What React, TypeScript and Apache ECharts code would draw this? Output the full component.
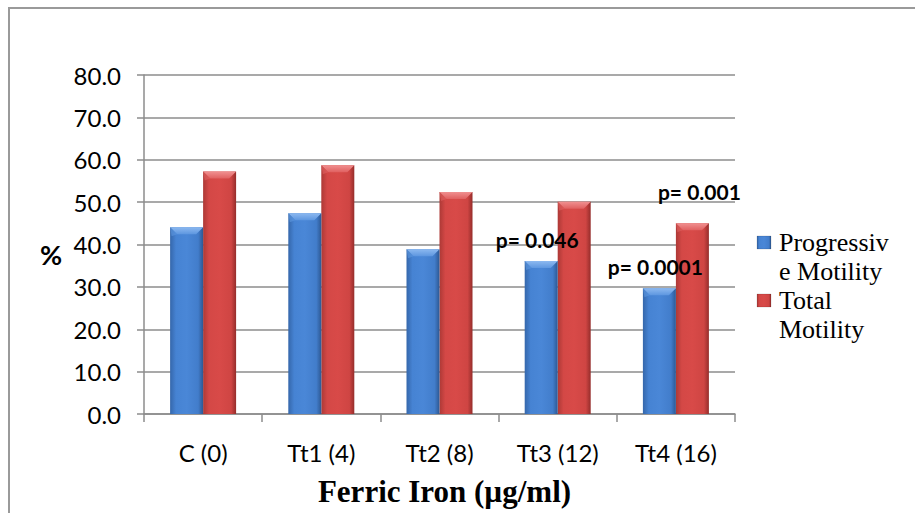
import React, { useEffect, useRef } from "react";
import * as echarts from "echarts";

// Motility (%) by ferric iron dose
const categories = ["C (0)", "Tt1 (4)", "Tt2 (8)", "Tt3 (12)", "Tt4 (16)"];
const progressiveMotility = [44.1, 47.4, 38.9, 36.1, 29.7];
const totalMotility = [57.2, 58.7, 52.4, 50.1, 45.0];
const progressiveNotes = ["", "", "", "p= 0.046", "p= 0.0001"];
const totalNotes = ["", "", "", "", "p= 0.001"];
const legendLines = {
  progressive: ["Progressiv", "e Motility"],
  total: ["Total", "Motility"],
};

const BAR_W = 33;
const BEVEL = 7;
const GRID_COLOR = "#8c8c8c";

const blueBody = new echarts.graphic.LinearGradient(0, 0, 1, 0, [
  { offset: 0, color: "#3567ab" },
  { offset: 0.18, color: "#4683d3" },
  { offset: 0.5, color: "#4a87d7" },
  { offset: 0.85, color: "#427dcb" },
  { offset: 1, color: "#2d5893" },
]);
const redBody = new echarts.graphic.LinearGradient(0, 0, 1, 0, [
  { offset: 0, color: "#ad3936" },
  { offset: 0.18, color: "#d44846" },
  { offset: 0.5, color: "#d84a48" },
  { offset: 0.85, color: "#cf4543" },
  { offset: 1, color: "#952d2b" },
]);

// Chamfered top edge drawn over each bar
function bevelSeries(values: number[], side: number, light: string, mid: string) {
  return {
    type: "custom",
    z: 4,
    silent: true,
    data: values.map((v, i) => [i, v]),
    encode: { x: 0, y: 1 },
    renderItem: (_params: any, api: any) => {
      const top = api.coord([api.value(0), api.value(1)]);
      const base = api.coord([api.value(0), 0]);
      const x0 = side < 0 ? top[0] - BAR_W : top[0];
      const x1 = x0 + BAR_W;
      const y0 = top[1];
      const b = Math.min(BEVEL, (base[1] - y0) / 2);
      return {
        type: "group",
        children: [
          {
            type: "polygon",
            shape: { points: [[x0, y0], [x1, y0], [x1 - b, y0 + b], [x0 + b, y0 + b]] },
            style: {
              fill: new echarts.graphic.LinearGradient(0, 0, 0, 1, [
                { offset: 0, color: light },
                { offset: 1, color: mid },
              ]),
            },
          },
          {
            type: "polygon",
            shape: { points: [[x0, y0], [x0 + b, y0 + b], [x0 + 1.5, y0 + b + 2]] },
            style: { fill: mid, opacity: 0.6 },
          },
        ],
      };
    },
  };
}

// Legend entry: swatch plus a wrapped two-line label
function legendItem(x: number, swatchTop: number, fill: any, lines: string[], textTop: number) {
  return [
    {
      type: "rect",
      shape: { x, y: swatchTop, width: 14, height: 13 },
      style: { fill, stroke: "rgba(0,0,0,0.25)", lineWidth: 0.5 },
    },
    {
      type: "text",
      x: x + 22,
      y: textTop,
      style: {
        text: lines.join("\n"),
        font: "26px 'Liberation Serif', 'Times New Roman', serif",
        lineHeight: 29,
        fill: "#000",
        textAlign: "left",
        textVerticalAlign: "top",
      },
    },
  ];
}

export default function App() {
  const ref = useRef<HTMLDivElement>(null);

  useEffect(() => {
    if (!ref.current) return;
    const chart = echarts.init(ref.current, null, { renderer: "svg" });

    const noteLabel = (notes: string[], distance: number, dx: number) => ({
      show: true,
      position: "top",
      distance,
      offset: [dx, 0],
      formatter: (p: any) => notes[p.dataIndex],
      fontFamily: "Lato",
      fontWeight: "bold",
      fontSize: 21,
      color: "#000",
    });

    chart.setOption({
      animation: false,
      backgroundColor: "#ffffff",
      grid: { left: 144, right: 180, top: 75, bottom: 99, containLabel: false },
      xAxis: {
        type: "category",
        data: categories,
        axisLine: { show: true, lineStyle: { color: GRID_COLOR, width: 1.5 } },
        axisTick: { show: true, length: 8, lineStyle: { color: GRID_COLOR, width: 1.5 } },
        axisLabel: {
          fontFamily: "Lato",
          fontSize: 24,
          lineHeight: 24,
          color: "#000",
          margin: 26,
        },
        name: "Ferric Iron (µg/ml)",
        nameLocation: "middle",
        nameGap: 62,
        nameTextStyle: {
          fontFamily: "'Liberation Serif', 'Times New Roman', serif",
          fontWeight: "bold",
          fontSize: 31,
          color: "#000",
          padding: [0, 0, 0, 10],
        },
      },
      yAxis: {
        type: "value",
        min: 0,
        max: 80,
        interval: 10,
        axisLine: { show: true, lineStyle: { color: GRID_COLOR, width: 1.5 } },
        axisTick: { show: true, length: 7, lineStyle: { color: GRID_COLOR, width: 1.5 } },
        splitLine: { show: true, lineStyle: { color: GRID_COLOR, width: 1.5 } },
        axisLabel: {
          formatter: (v: number) => v.toFixed(1),
          fontFamily: "Lato",
          fontSize: 24,
          color: "#000",
          margin: 23,
        },
      },
      series: [
        {
          name: "Progressive Motility",
          type: "bar",
          z: 3,
          barWidth: BAR_W,
          barGap: "0%",
          data: progressiveMotility,
          itemStyle: { color: blueBody },
          label: noteLabel(progressiveNotes, 11, -4),
        },
        {
          name: "Total Motility",
          type: "bar",
          z: 2,
          barWidth: BAR_W,
          barGap: "0%",
          data: totalMotility,
          itemStyle: { color: redBody },
          label: noteLabel(totalNotes, 21, 7),
        },
        bevelSeries(progressiveMotility, -1, "#8db9f0", "#5e97e0"),
        bevelSeries(totalMotility, 1, "#f09090", "#e06060"),
      ],
      graphic: [
        {
          type: "rect",
          shape: { x: 9, y: 8, width: 1000, height: 600 },
          style: { fill: "none", stroke: "#9a9a9a", lineWidth: 2 },
          silent: true,
        },
        {
          type: "text",
          x: 51,
          y: 254,
          style: {
            text: "%",
            font: "bold 27px Lato",
            fill: "#000",
            textAlign: "center",
            textVerticalAlign: "middle",
          },
        },
        ...legendItem(757, 236, blueBody, legendLines.progressive, 228),
        ...legendItem(757, 294, redBody, legendLines.total, 286),
      ],
    });

    return () => chart.dispose();
  }, []);

  return (
    <div
      ref={ref}
      style={{ position: "fixed", left: 0, top: 0, width: 915, height: 513 }}
    />
  );
}
